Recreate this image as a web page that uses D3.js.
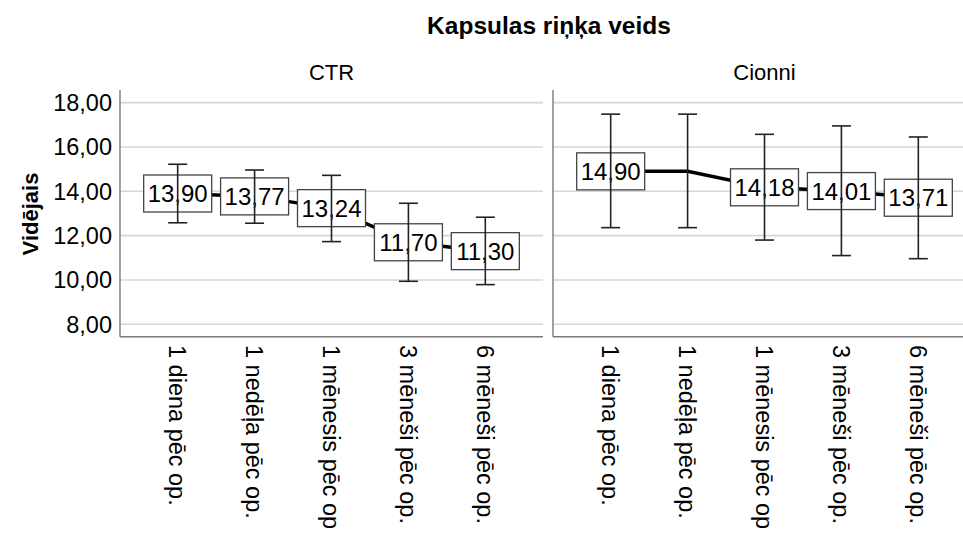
<!DOCTYPE html>
<html>
<head>
<meta charset="utf-8">
<script src="https://cdn.jsdelivr.net/npm/d3@7"></script>
<style>
  html, body { margin: 0; padding: 0; background: #fff; }
  svg { display: block; font-family: "Liberation Sans", Arial, sans-serif; }
</style>
</head>
<body>
<svg id="chart" width="963" height="536"></svg>
<script>
// ---- data ----
const chartTitle = "Kapsulas riņķa veids";
const yTitle = "Vidējais";
const panels = ["CTR", "Cionni"];
const categories = ["1 diena pēc op.", "1 nedēļa pēc op.", "1 mēnesis pēc op", "3 mēneši pēc op.", "6 mēneši pēc op."];
const yTicks = [8, 10, 12, 14, 16, 18];

const ctrMean  = [13.90, 13.77, 13.24, 11.70, 11.30];
const ctrLow   = [12.58, 12.56, 11.73, 9.94, 9.79];
const ctrHigh  = [15.22, 14.96, 14.72, 13.46, 12.83];
const ctrShowLabel = [true, true, true, true, true];

const cionniMean = [14.90, 14.90, 14.18, 14.01, 13.71];
const cionniLow  = [12.36, 12.36, 11.80, 11.10, 10.96];
const cionniHigh = [17.48, 17.48, 16.57, 16.95, 16.45];
const cionniShowLabel = [true, false, true, true, true];

const seriesByPanel = {
  "CTR":    { mean: ctrMean, low: ctrLow, high: ctrHigh, show: ctrShowLabel },
  "Cionni": { mean: cionniMean, low: cionniLow, high: cionniHigh, show: cionniShowLabel }
};

// ---- layout ----
const svg = d3.select("#chart");
const plotTop = 90, plotBottom = 336.7;
const panelX0 = [120, 553];
const panelW = 423;

const y = d3.scaleLinear().domain([7.44, 18.57]).range([plotBottom, plotTop]);
const fmt = d3.formatLocale({decimal: ",", thousands: " ", grouping: [3], currency: ["", ""]}).format(".2f");

// title
svg.append("text")
  .attr("x", 549).attr("y", 34)
  .attr("text-anchor", "middle")
  .attr("font-weight", "bold")
  .attr("font-size", 24.5)
  .attr("fill", "#000")
  .text(chartTitle);

// y axis title
svg.append("text")
  .attr("transform", "translate(38,214) rotate(-90)")
  .attr("text-anchor", "middle")
  .attr("font-weight", "bold")
  .attr("font-size", 22)
  .attr("fill", "#000")
  .text(yTitle);

// y tick labels (left only)
svg.append("g").selectAll("text")
  .data(yTicks).join("text")
  .attr("x", 112)
  .attr("y", d => y(d))
  .attr("dy", "0.36em")
  .attr("text-anchor", "end")
  .attr("font-size", 23.5)
  .attr("fill", "#000")
  .text(d => fmt(d));

panels.forEach((p, pi) => {
  const x0 = panelX0[pi];
  const x = d3.scalePoint().domain(categories).range([x0, x0 + panelW]).padding(0.75);
  const s = seriesByPanel[p];
  const g = svg.append("g");
  const idx = d3.range(categories.length);

  // panel header
  g.append("text")
    .attr("x", x0 + panelW / 2).attr("y", 80)
    .attr("text-anchor", "middle")
    .attr("font-size", 22)
    .attr("fill", "#000")
    .text(p);

  // gridlines
  g.selectAll("line.grid").data(yTicks).join("line")
    .attr("class", "grid")
    .attr("x1", x0).attr("x2", x0 + panelW)
    .attr("y1", d => y(d)).attr("y2", d => y(d))
    .attr("stroke", "#d6d6d6").attr("stroke-width", 1.6);

  // axis frame
  g.append("line")
    .attr("x1", x0).attr("x2", x0)
    .attr("y1", plotTop).attr("y2", plotBottom)
    .attr("stroke", "#7a7a7a").attr("stroke-width", 1.4);
  g.append("line")
    .attr("x1", x0).attr("x2", x0 + panelW)
    .attr("y1", plotBottom).attr("y2", plotBottom)
    .attr("stroke", "#7a7a7a").attr("stroke-width", 1.4);

  // mean line
  g.append("path")
    .datum(idx)
    .attr("d", d3.line().x(i => x(categories[i])).y(i => y(s.mean[i])))
    .attr("fill", "none").attr("stroke", "#000").attr("stroke-width", 3.5);

  // label boxes
  const lab = idx.filter(i => s.show[i]);
  g.selectAll("rect.box").data(lab).join("rect")
    .attr("class", "box")
    .attr("x", i => x(categories[i]) - 34)
    .attr("y", i => y(s.mean[i]) - 18.5)
    .attr("width", 68).attr("height", 37)
    .attr("fill", "#fff").attr("stroke", "#444").attr("stroke-width", 1.3);
  g.selectAll("text.val").data(lab).join("text")
    .attr("class", "val")
    .attr("x", i => x(categories[i]))
    .attr("y", i => y(s.mean[i]))
    .attr("dy", "0.36em")
    .attr("text-anchor", "middle")
    .attr("font-size", 24)
    .attr("fill", "#000")
    .text(i => fmt(s.mean[i]));

  // error bars
  const eb = g.selectAll("g.eb").data(idx).join("g").attr("class", "eb")
    .attr("stroke", "#222").attr("stroke-width", 1.6);
  eb.append("line")
    .attr("x1", i => x(categories[i])).attr("x2", i => x(categories[i]))
    .attr("y1", i => y(s.high[i])).attr("y2", i => y(s.low[i]));
  eb.append("line")
    .attr("x1", i => x(categories[i]) - 9.5).attr("x2", i => x(categories[i]) + 9.5)
    .attr("y1", i => y(s.high[i])).attr("y2", i => y(s.high[i]));
  eb.append("line")
    .attr("x1", i => x(categories[i]) - 9.5).attr("x2", i => x(categories[i]) + 9.5)
    .attr("y1", i => y(s.low[i])).attr("y2", i => y(s.low[i]));

  // x labels rotated
  g.selectAll("text.xl").data(categories).join("text")
    .attr("class", "xl")
    .attr("transform", d => `translate(${x(d)},345) rotate(90)`)
    .attr("dy", "0.36em")
    .attr("text-anchor", "start")
    .attr("font-size", 23.5)
    .attr("fill", "#000")
    .text(d => d);
});
</script>
</body>
</html>
